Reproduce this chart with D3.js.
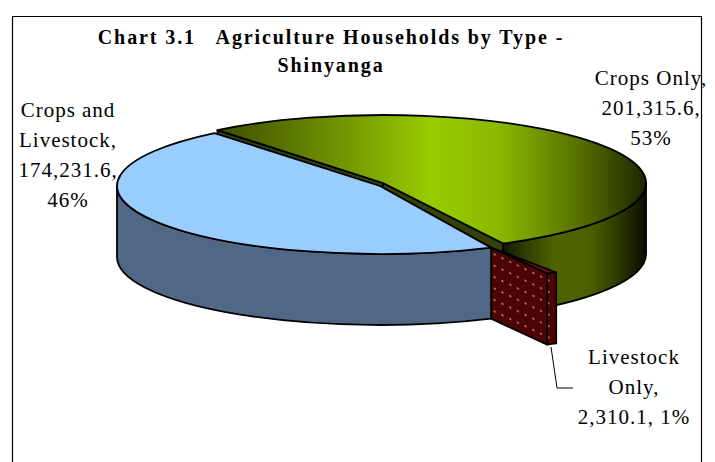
<!DOCTYPE html>
<html>
<head>
<meta charset="utf-8">
<script src="https://cdn.jsdelivr.net/npm/d3@7"></script>
<style>
    html, body { margin: 0; padding: 0; background: #fff; overflow: hidden; }
    text { font-family: "Liberation Serif", serif; fill: #000; }
</style>
</head>
<body>
<div id="chart"></div>
<script>
// Chart values
const categories = ["Crops Only", "Livestock Only", "Crops and Livestock"];
const households = [201315.6, 2310.1, 174231.6];
const percentLabels = ["53%", "1%", "46%"];
const titleLines = ["Chart 3.1   Agriculture Households by Type -", "Shinyanga"];

const width = 715;
const height = 462;
const rx = 263;   // ellipse radii of the tilted pie
const ry = 68;
const depth = 71; // height of the pie walls
const startDeg = -39;

// Each slice sits on its own centre because the pie is pulled apart
const centers = [[383, 183], [436, 212], [380, 186]];

const svg = d3.select("#chart").append("svg")
    .attr("width", width)
    .attr("height", height)
    .style("display", "block");

const defs = svg.append("defs");

function hGradient(id, x1, x2, stops) {
    const g = defs.append("linearGradient")
        .attr("id", id)
        .attr("gradientUnits", "userSpaceOnUse")
        .attr("x1", x1).attr("x2", x2)
        .attr("y1", 0).attr("y2", 0);
    stops.forEach(s => g.append("stop").attr("offset", s[0]).attr("stop-color", s[1]));
}

hGradient("cropTop", 218, 645, [
    [0, "#3f4f00"], [0.25, "#6b8a00"], [0.5, "#99cc00"], [0.66, "#8ab800"],
    [0.85, "#566e00"], [1, "#1e2600"]
]);
hGradient("cropWall", 505, 645, [
    [0, "#141a00"], [0.14, "#2f3d00"], [0.36, "#4f6400"], [0.6, "#4c6000"],
    [0.82, "#2b3700"], [1, "#0b0e00"]
]);

// Dotted maroon fill, sheared to follow the cut face
const dots = defs.append("pattern")
    .attr("id", "dots")
    .attr("patternUnits", "userSpaceOnUse")
    .attr("width", 7.7)
    .attr("height", 11.4)
    .attr("patternTransform", "translate(491,247) skewY(25.7)");
dots.append("rect").attr("width", 7.7).attr("height", 11.4).attr("fill", "#4f0404");
dots.append("circle").attr("cx", 3.8).attr("cy", 5.7).attr("r", 1).attr("fill", "#b8a4a4");

// Frame, open at the bottom
svg.append("path")
    .attr("d", `M12.5,${height} V16.5 H701.5 V${height}`)
    .attr("fill", "none")
    .attr("stroke", "#000")
    .attr("stroke-width", 1.2);

// Slice angles
const pie = d3.pie()
    .sort(null)
    .startAngle(startDeg * Math.PI / 180)
    .endAngle((startDeg + 360) * Math.PI / 180);
const slices = pie(households);

const pt = (c, a, dy = 0) => [c[0] + rx * Math.sin(a), c[1] - ry * Math.cos(a) + dy];

function topPath(c, a0, a1, apex = c) {
    const p0 = pt(c, a0), p1 = pt(c, a1);
    return `M${apex} L${p0} A${rx},${ry} 0 ${a1 - a0 > Math.PI ? 1 : 0} 1 ${p1} Z`;
}

function wallPath(c, a0, a1) {
    const p0 = pt(c, a0), p1 = pt(c, a1), q0 = pt(c, a0, depth), q1 = pt(c, a1, depth);
    return `M${p0} A${rx},${ry} 0 0 1 ${p1} L${q1} A${rx},${ry} 0 0 0 ${q0} Z`;
}

function facePath(c, a, apex = c) {
    const p = pt(c, a), q = pt(c, a, depth);
    return `M${apex} L${p} L${q} L${apex[0]},${apex[1] + depth} Z`;
}

const pieG = svg.append("g")
    .attr("stroke", "#000")
    .attr("stroke-width", 1.8)
    .attr("stroke-linejoin", "round");

function draw(d, fill) {
    pieG.append("path").attr("d", d).attr("fill", fill);
}

const rad90 = Math.PI / 2;
const [crops, livestock, mixed] = slices;

// Crops Only: cut faces first so the top and the blue slice cover them
draw(facePath(centers[0], crops.startAngle), "#34420a");
draw(facePath(centers[0], crops.endAngle), "#34420a");
draw(wallPath(centers[0], rad90, crops.endAngle), "url(#cropWall)");
draw(topPath(centers[0], crops.startAngle, crops.endAngle), "url(#cropTop)");

// Livestock Only: pulled out towards the viewer. Only the part past the
// corner of the blue slice shows, so the face starts at that corner.
const corner = pt(centers[2], mixed.startAngle);
draw(wallPath(centers[1], livestock.startAngle, livestock.endAngle), "url(#dots)");
draw(topPath(centers[1], livestock.startAngle, livestock.endAngle, corner), "#6d0f0f");
draw(facePath(centers[1], livestock.endAngle, corner), "url(#dots)");

// Crops and Livestock
draw(wallPath(centers[2], mixed.startAngle, 3 * rad90), "#506785");
draw(topPath(centers[2], mixed.startAngle, mixed.endAngle), "#99ccff");

// Leader line of the Livestock label
const line = d3.line();
svg.append("path")
    .attr("d", line([[551, 347], [557, 388], [573, 388]]))
    .attr("fill", "none")
    .attr("stroke", "#000")
    .attr("stroke-width", 1);

// Title
svg.append("g").selectAll("text")
    .data(titleLines)
    .join("text")
    .attr("x", 331)
    .attr("y", (d, i) => 44 + i * 28)
    .attr("text-anchor", "middle")
    .attr("xml:space", "preserve")
    .style("white-space", "pre")
    .style("font-size", "20px")
    .style("font-weight", "bold")
    .style("letter-spacing", "1.9px")
    .text(d => d);

// Data labels
const fmt = d3.format(",.1f");
const labelLines = [
    [`${categories[0]},`, `${fmt(households[0])},`, percentLabels[0]],
    ["Livestock", "Only,", `${fmt(households[1])}, ${percentLabels[1]}`],
    ["Crops and", "Livestock,", `${fmt(households[2])},`, percentLabels[2]]
];
const labelAnchors = [[651, 85], [634, 364], [68, 117]];

labelLines.forEach((lines, i) => {
    svg.append("g").selectAll("text")
        .data(lines)
        .join("text")
        .attr("x", labelAnchors[i][0])
        .attr("y", (d, j) => labelAnchors[i][1] + j * 30)
        .attr("text-anchor", "middle")
        .style("font-size", "21px")
        .style("letter-spacing", "1px")
        .text(d => d);
});
</script>
</body>
</html>
